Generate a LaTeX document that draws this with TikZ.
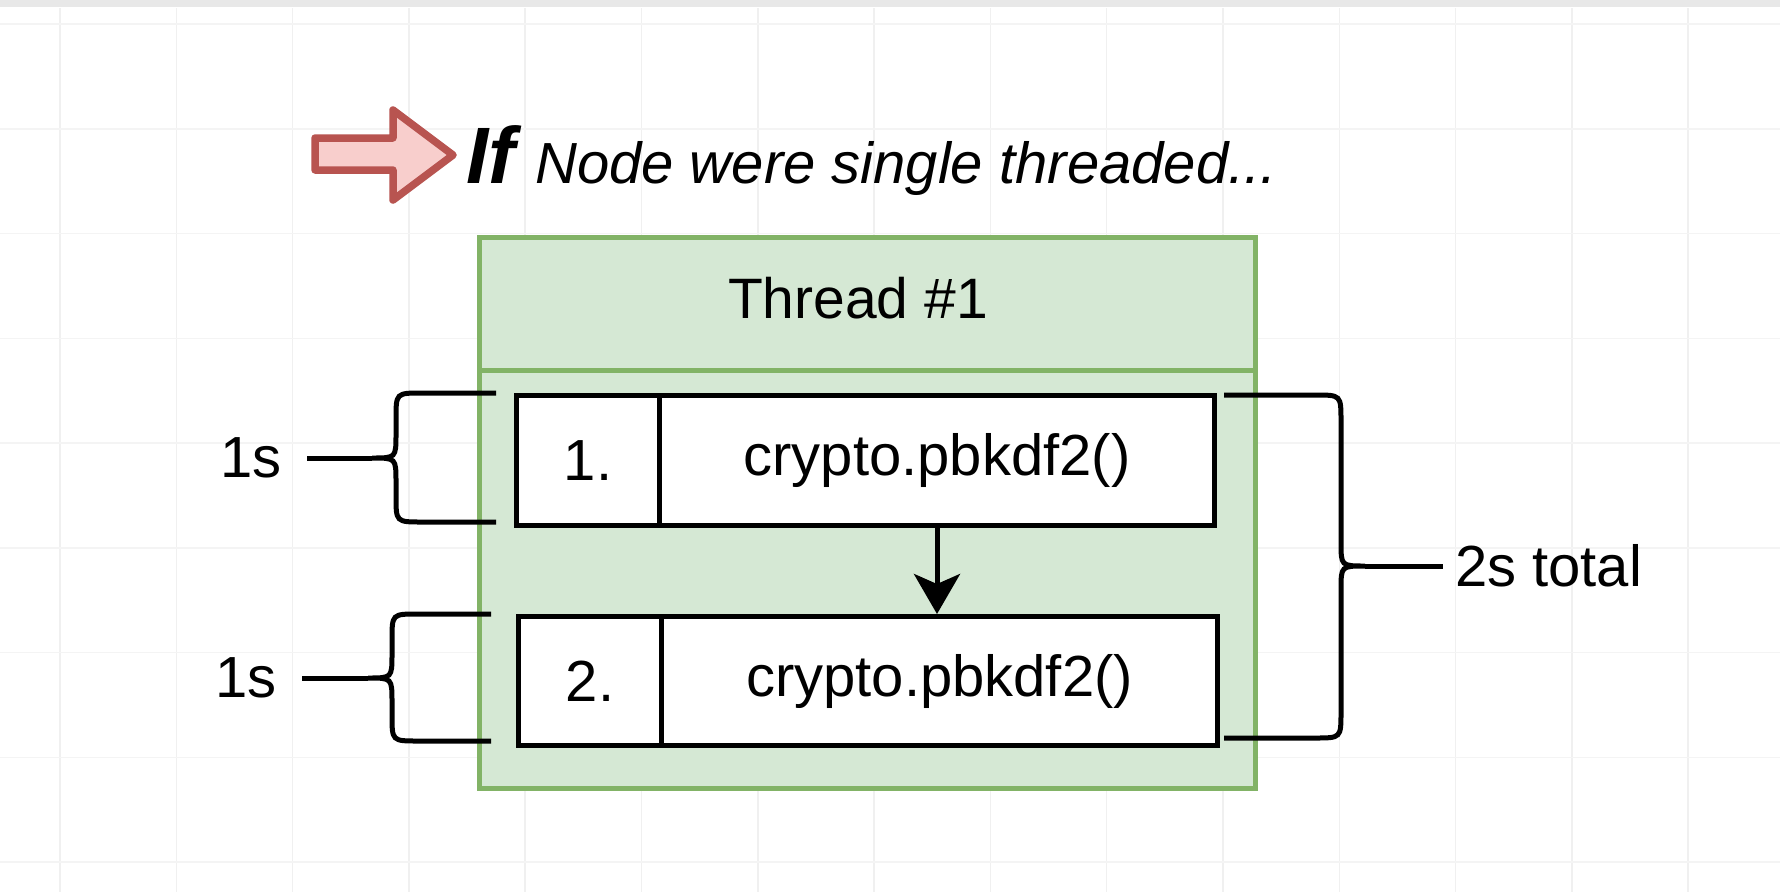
\documentclass[tikz,border=0pt]{standalone}
\usepackage{fontspec}
\setmainfont{Liberation Sans}
\usetikzlibrary{arrows.meta}
\definecolor{gfill}{HTML}{D5E8D4}
\definecolor{gline}{HTML}{82B366}
\definecolor{rfill}{HTML}{F8CECC}
\definecolor{rline}{HTML}{B85450}
\definecolor{gridv}{HTML}{F0F0F0}
\definecolor{gridh}{HTML}{F4F4F4}
\begin{document}
\begin{tikzpicture}[x=1pt,y=-1pt,
  lbl/.style={font=\fontsize{58}{60}\selectfont, inner sep=0pt},
  greenbox/.style={draw=gline, fill=gfill, line width=4.5pt, rectangle, inner sep=0pt, anchor=north west, font=\fontsize{57}{60}\selectfont},
  cellbox/.style={draw=black, fill=white, line width=5pt, rectangle, inner sep=0pt, anchor=north west, font=\fontsize{58}{60}\selectfont},
  bracepath/.style={draw=black, line width=5pt},
  gridvline/.style={draw=gridv, line width=1.5pt},
  gridhline/.style={draw=gridh, line width=1.5pt}
]
\useasboundingbox (0,0) rectangle (1780,892);
\fill[white] (0,0) rectangle (1780,892);
% background grid
\foreach \i in {0,...,14} \draw[gridvline] ({60+116.3*\i},8) -- ({60+116.3*\i},892);
\foreach \j in {0,...,8} \draw[gridhline] (0,{24+104.75*\j}) -- (1780,{24+104.75*\j});
\fill[black!9] (0,0) rectangle (1780,7);

% title arrow
\draw[draw=rline, fill=rfill, line width=7.5pt, line join=round]
  (315,138) -- (393,138) -- (393,110) -- (453,155) -- (393,200) -- (393,170) -- (315,170) -- cycle;
\node[anchor=base west, inner sep=0pt, font=\fontsize{80}{80}\selectfont\bfseries\itshape] (iftxt) at (466,183) {If};
\node[anchor=base west, inner sep=0pt, font=\fontsize{58}{60}\selectfont\itshape] (ttl) at (535,183) {Node were single threaded...};

% thread container
\node[greenbox, minimum width=776pt, minimum height=418pt] (body) at (477,368) {};
\node[greenbox, minimum width=776pt, minimum height=133pt] (hdr) at (477,235) {};
\node[inner sep=0pt, font=\fontsize{57}{60}\selectfont] (hdrtxt) at (858,298) {Thread \#1};

% cells
\node[cellbox, minimum width=143pt, minimum height=130pt] (n1) at (514,393) {1.};
\node[cellbox, minimum width=555pt, minimum height=130pt] (f1) at (657,393) {crypto.pbkdf2()};
\node[cellbox, minimum width=143pt, minimum height=129pt] (n2) at (516,614) {2.};
\node[cellbox, minimum width=556pt, minimum height=129pt] (f2) at (659,614) {crypto.pbkdf2()};

\draw[line width=5pt, -{Stealth[length=40pt, width=46pt, inset=10pt]}] (f1.south) -- (f1.south |- f2.north);

% left brace 1
\draw[bracepath] (496,393) -- (422,393) .. controls (396,393) .. (396,419) -- (396,434)
  .. controls (396,458) .. (372,458) .. controls (396,458) .. (396,482) -- (396,496)
  .. controls (396,522) .. (422,522) -- (496,522);
\coordinate (b1tip) at (372,458);
\node[lbl, anchor=east, outer xsep=25pt] (s1) at (307,458) {1s};
\draw[bracepath] (b1tip) -- (s1.east);

% left brace 2
\draw[bracepath] (491,614) -- (418,614) .. controls (392,614) .. (392,640) -- (392,654)
  .. controls (392,678) .. (368,678) .. controls (392,678) .. (392,702) -- (392,715)
  .. controls (392,741) .. (418,741) -- (491,741);
\coordinate (b2tip) at (368,678);
\node[lbl, anchor=east, outer xsep=25pt] (s2) at (302,678) {1s};
\draw[bracepath] (b2tip) -- (s2.east);

% right brace
\draw[bracepath] (1224,395) -- (1315,395) .. controls (1341,395) .. (1341,421) -- (1341,542)
  .. controls (1341,566) .. (1365,566) .. controls (1341,566) .. (1341,590) -- (1341,712)
  .. controls (1341,738) .. (1315,738) -- (1224,738);
\coordinate (b3tip) at (1365,566);
\node[lbl, anchor=west, outer xsep=12pt] (tot) at (1443,566) {2s total};
\draw[bracepath] (b3tip) -- (tot.west);
\end{tikzpicture}
\end{document}
